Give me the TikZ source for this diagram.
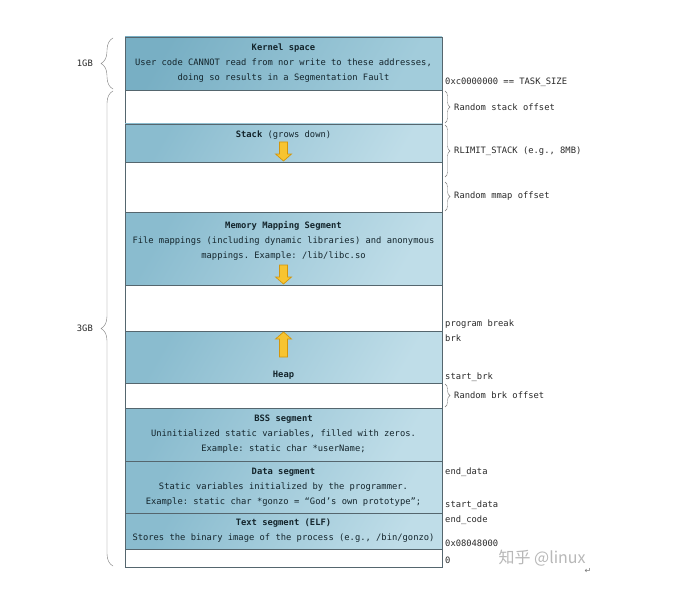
\documentclass[tikz,border=0pt]{standalone}
\usepackage{fontspec}
\setmonofont{DejaVu Sans Mono}
\newfontfamily\cjkfont{Noto Sans CJK SC}
\newfontfamily\symbolfont{DejaVu Sans}
\usetikzlibrary{positioning,decorations.pathreplacing}
\definecolor{seg-dark}{HTML}{8ABCCF}
\definecolor{seg-light}{HTML}{BFDDE8}
\definecolor{kernel-dark}{HTML}{78AFC4}
\definecolor{kernel-light}{HTML}{A2CCDB}
\definecolor{seg-line}{HTML}{55666E}
\definecolor{seg-ink}{HTML}{14252C}
\definecolor{label-ink}{HTML}{2A2A2A}
\definecolor{brace-line}{HTML}{7A7A7A}
\definecolor{grow-fill}{HTML}{F7C431}
\definecolor{grow-line}{HTML}{D2960C}
\tikzset{
    mono-text/.style = {font=\ttfamily\fontsize{8.8}{15}\selectfont},
    layer-box/.style = {draw=seg-line, line width=0.9pt, rectangle, minimum width=317pt, inner sep=0pt, outer sep=0pt, mono-text, align=center, text=seg-ink},
    seg-box/.style = {layer-box, left color=seg-dark, right color=seg-light, shading angle=60},
    gap-box/.style = {layer-box, fill=white},
    seg-title/.style = {mono-text, align=center, text=seg-ink, inner sep=0pt},
    side-label/.style = {mono-text, text=label-ink, inner sep=1pt, align=left},
    left-brace/.style = {draw=brace-line, thin, decorate, decoration={brace, amplitude=12pt}},
    right-brace/.style = {draw=brace-line, thin, decorate, decoration={brace, amplitude=5pt}},
    grow-arrow/.pic = {\draw[fill=grow-fill, draw=grow-line, line width=0.7pt, line join=miter] (-4,-#1) -- (4,-#1) -- (4,-7) -- (8,-7) -- (0,0) -- (-8,-7) -- (-4,-7) -- cycle;},
}

\begin{document}
\begin{tikzpicture}[x=1pt, y=-1pt]
\path[use as bounding box, fill=white] (0,0) rectangle (676,596);

% memory layers, top to bottom
\node[seg-box, left color=kernel-dark, right color=kernel-light, shading angle=60, minimum height=53pt, anchor=north west] (kernel) at (125,37) {\textbf{Kernel space}\\User code CANNOT read from nor write to these addresses,\\doing so results in a Segmentation Fault};
\node[gap-box, minimum height=34pt, below=0pt of kernel] (stack-gap) {};
\node[seg-box, minimum height=38pt, below=0pt of stack-gap] (stack) {};
\node[gap-box, minimum height=50pt, below=0pt of stack] (mmap-gap) {};
\node[seg-box, minimum height=73pt, below=0pt of mmap-gap] (mmap) {};
\node[gap-box, minimum height=46pt, below=0pt of mmap] (heap-gap) {};
\node[seg-box, minimum height=52pt, below=0pt of heap-gap] (heap) {};
\node[gap-box, minimum height=25pt, below=0pt of heap] (brk-gap) {};
\node[seg-box, minimum height=53pt, below=0pt of brk-gap] (bss) {\textbf{BSS segment}\\Uninitialized static variables, filled with zeros.\\Example: static char *userName;};
\node[seg-box, minimum height=52pt, below=0pt of bss] (data) {\textbf{Data segment}\\Static variables initialized by the programmer.\\Example: static char *gonzo = “God’s own prototype”;};
\node[seg-box, minimum height=36pt, below=0pt of data] (text-seg) {\textbf{Text segment (ELF)}\\Stores the binary image of the process (e.g., /bin/gonzo)};
\node[gap-box, minimum height=18pt, below=0pt of text-seg] (null-gap) {};

% titles that sit off centre
\node[seg-title, below=7pt of stack.north] (stack-label) {\textbf{Stack} (grows down)};
\node[seg-title, below=9pt of mmap.north] (mmap-label) {\textbf{Memory Mapping Segment}\\File mappings (including dynamic libraries) and anonymous\\mappings. Example: /lib/libc.so};
\node[seg-title, above=3pt of heap.south] (heap-label) {\textbf{Heap}};

% growth arrows
\pic at ([yshift=1pt]stack.south) {grow-arrow=19};
\pic at ([yshift=1pt]mmap.south) {grow-arrow=19};
\pic[rotate=180] at ([yshift=-1pt]heap.north) {grow-arrow=25};

% sizes on the left
\draw[left-brace] ([xshift=-12pt,yshift=1pt]kernel.south west) -- ([xshift=-12pt,yshift=-1pt]kernel.north west) node[side-label, midway, left=19pt] (one-gb) {1GB};
\draw[left-brace] ([xshift=-12pt,yshift=1pt]null-gap.south west) -- ([xshift=-12pt,yshift=-1pt]stack-gap.north west) node[side-label, midway, left=19pt] (three-gb) {3GB};

% offsets on the right
\draw[right-brace] ([xshift=3pt,yshift=-1pt]stack-gap.north east) -- ([xshift=3pt,yshift=1pt]stack-gap.south east) node[side-label, midway, right=8pt] (stack-offset) {Random stack offset};
\draw[right-brace] ([xshift=3pt,yshift=-1pt]stack.north east) -- ([xshift=3pt,yshift=-15pt]stack.south east) node[side-label, midway, right=8pt] (rlimit) {RLIMIT\_STACK (e.g., 8MB)};
\draw[right-brace] ([xshift=3pt,yshift=-20pt]stack.south east) -- ([xshift=3pt,yshift=1pt]mmap-gap.south east) node[side-label, midway, right=8pt] (mmap-offset) {Random mmap offset};
\draw[right-brace] ([xshift=3pt,yshift=-1pt]brk-gap.north east) -- ([xshift=3pt,yshift=1pt]brk-gap.south east) node[side-label, midway, right=8pt] (brk-offset) {Random brk offset};

% addresses
\node[side-label, anchor=base west] (task-size) at ([xshift=2pt,yshift=5pt]kernel.south east) {0xc0000000 == TASK\_SIZE};
\node[side-label, anchor=west] (program-break) at ([xshift=2pt]heap.north east) {program break\\brk};
\node[side-label, anchor=base west] (start-brk) at ([xshift=2pt,yshift=4pt]heap.south east) {start\_brk};
\node[side-label, anchor=base west] (end-data) at ([xshift=2pt,yshift=-13pt]data.north east) {end\_data};
\node[side-label, anchor=west] (data-code) at ([xshift=2pt]data.south east) {start\_data\\end\_code};
\node[side-label, anchor=base west] (text-start) at ([xshift=2pt,yshift=3pt]text-seg.south east) {0x08048000};
\node[side-label, anchor=base west] (zero-addr) at ([xshift=2pt,yshift=4pt]null-gap.south east) {0};

\node[font=\cjkfont\fontsize{16}{16}\selectfont, text=black!28, anchor=west] (watermark) at (495,558) {知乎 @linux};
\node[font=\symbolfont\fontsize{8}{8}\selectfont, text=black!55] (return-mark) at (588,571) {↵};
\end{tikzpicture}
\end{document}
